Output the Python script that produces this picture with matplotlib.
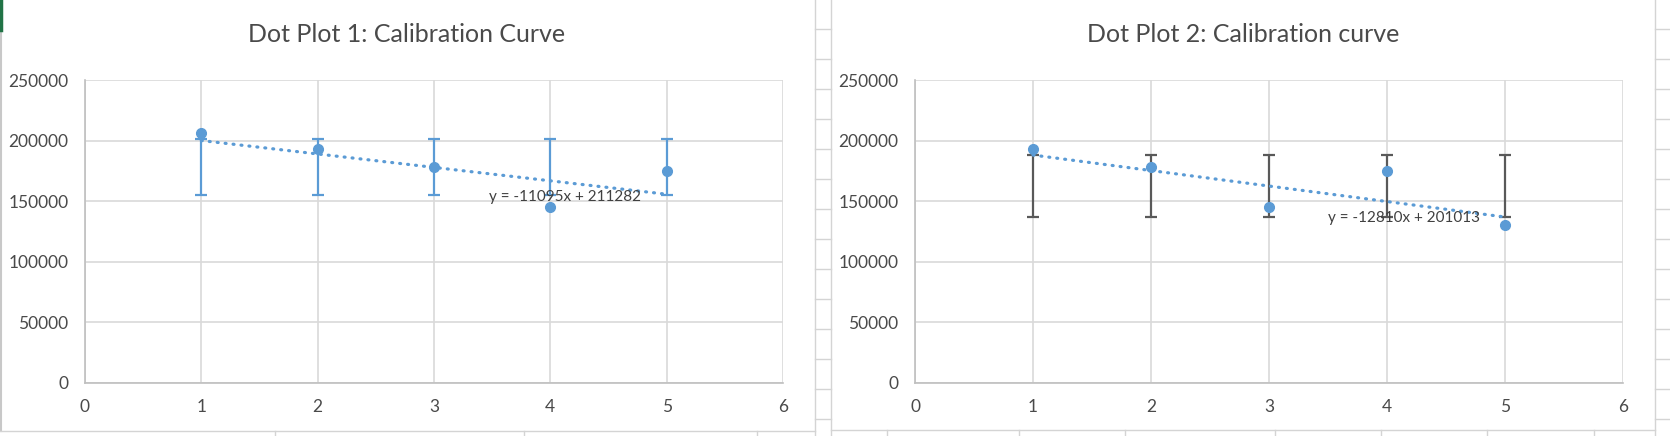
import matplotlib
matplotlib.use("Agg")
import matplotlib.pyplot as plt
from matplotlib.lines import Line2D

# ---------------- data ----------------
x_vals = [1, 2, 3, 4, 5]
y_plot1 = [206700, 193450, 178560, 145500, 175300]
y_plot2 = [193450, 178560, 145500, 175300, 130370]
err1_low = [155200, 155200, 155200, 155200, 155200]
err1_high = [201500, 201500, 201500, 201500, 201500]
err2_low = [137200, 137200, 137200, 137200, 137200]
err2_high = [188250, 188250, 188250, 188250, 188250]
trend1 = (-11095, 211282)
trend2 = (-12810, 201013)
titles = ["Dot Plot 1: Calibration Curve", "Dot Plot 2: Calibration curve"]
x_ticks = [0, 1, 2, 3, 4, 5, 6]
y_ticks = [0, 50000, 100000, 150000, 200000, 250000]

W, H = 1670, 436
fig = plt.figure(figsize=(W / 100, H / 100), dpi=100)
fig.patch.set_facecolor("white")

FONT = "Lato"
BLUE = "#5B9BD5"
TXT = "#4A4A4A"
GRID = "#D9D9D9"


def fx(px):
    return px / W


def fy(py):
    return 1 - py / H


def fline(x0, y0, x1, y1, color="#D4D4D4", lw=1.0):
    fig.add_artist(Line2D([fx(x0), fx(x1)], [fy(y0), fy(y1)], color=color,
                          lw=lw, transform=fig.transFigure))


# spreadsheet decoration
fline(1, 30, 1, 431, color="#C8C8C8", lw=1.5)
fline(1, 0, 1, 30, color="#217346", lw=2.5)
fline(0, 431, 815, 431)
fline(831, 430, 1655, 430)
fline(815, 0, 815, 436)
fline(831, 0, 831, 436)
fline(1655, 0, 1655, 436)
for yy in range(29, 436, 30):
    fline(815, yy, 831, yy)
    fline(1655, yy, 1670, yy)
for xx in [275, 524, 757]:
    fline(xx, 431, xx, 436)
for xx in [887, 1019, 1125, 1275, 1381, 1487, 1594]:
    fline(xx, 430, xx, 436)

panels = [
    dict(left=85, right=783, ys=y_plot1, lo=err1_low, hi=err1_high,
         ecolor=BLUE, trend=trend1, label_xy=(3.47, 153500), title=titles[0],
         cx=407),
    dict(left=915, right=1623, ys=y_plot2, lo=err2_low, hi=err2_high,
         ecolor="#595959", trend=trend2, label_xy=(3.5, 136200), title=titles[1],
         cx=1243),
]

top_px, bot_px = 80.3, 382.7
for p in panels:
    ax = fig.add_axes([fx(p["left"]), fy(bot_px), fx(p["right"] - p["left"]),
                       (bot_px - top_px) / H])
    ax.set_xlim(0, 6)
    ax.set_ylim(0, 250000)
    ax.set_xticks(x_ticks)
    ax.set_yticks(y_ticks)
    ax.set_xticklabels([str(t) for t in x_ticks])
    ax.set_yticklabels([str(t) for t in y_ticks])
    ax.grid(True, color=GRID, lw=1.2, zorder=0)
    ax.set_axisbelow(True)
    for s in ["top", "right"]:
        ax.spines[s].set_visible(False)
    for s in ["left", "bottom"]:
        ax.spines[s].set_color("#BFBFBF")
        ax.spines[s].set_linewidth(1.2)
    ax.tick_params(length=0, labelsize=12.5, labelcolor=TXT)
    ax.tick_params(axis="x", pad=12)
    ax.tick_params(axis="y", pad=12)
    for lab in ax.get_xticklabels() + ax.get_yticklabels():
        lab.set_fontfamily(FONT)

    # error bars (fixed ranges)
    ax.vlines(x_vals, p["lo"], p["hi"], color=p["ecolor"], lw=1.6, zorder=3)
    ax.plot(x_vals, p["lo"], ls="none", marker="_", ms=8, mew=1.6,
            color=p["ecolor"], zorder=3)
    ax.plot(x_vals, p["hi"], ls="none", marker="_", ms=8, mew=1.6,
            color=p["ecolor"], zorder=3)

    # points
    ax.plot(x_vals, p["ys"], ls="none", marker="o", ms=7, color=BLUE, zorder=4)

    # trendline
    m, b = p["trend"]
    tx = [x_vals[0], x_vals[-1]]
    ty = [m * t + b for t in tx]
    ax.plot(tx, ty, color=BLUE, lw=2.3, ls=(0, (0.3, 2.2)),
            dash_capstyle="round", zorder=5)
    ax.text(p["label_xy"][0], p["label_xy"][1], f"y = {m}x + {b}",
            fontsize=11, color="#404040", family=FONT, ha="left",
            va="center", zorder=6)

    fig.text(fx(p["cx"]), fy(34), p["title"], fontsize=18, color=TXT,
             family=FONT, ha="center", va="center")

fig.savefig("out.png", dpi=100, facecolor="white")
